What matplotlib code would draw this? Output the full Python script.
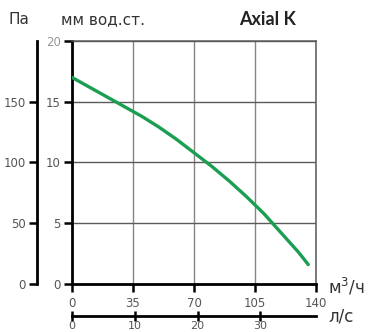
import matplotlib.pyplot as plt

# curve: flow [m3/h] vs pressure [mm water]
flow = [0, 10, 20, 30, 40, 50, 60, 70, 80, 90, 100, 110, 120, 130, 135.5]
pressure_mm = [17.0, 16.2, 15.4, 14.6, 13.8, 12.9, 11.9, 10.8, 9.7, 8.5, 7.2, 5.8, 4.2, 2.6, 1.6]

x_ticks = [0, 35, 70, 105, 140]
mm_ticks = [0, 5, 10, 15, 20]
pa_ticks = [0, 50, 100, 150]
ls_ticks = [0, 10, 20, 30]

grey = "#555555"

fig = plt.figure(figsize=(3.71, 3.32), dpi=100)
ax = fig.add_axes([0.194, 0.1446, 0.658, 0.732])

ax.plot(flow, pressure_mm, color="#1a9e52", lw=2.4, solid_capstyle="round", zorder=3)

ax.set_xlim(0, 140)
ax.set_ylim(0, 20)
ax.set_xticks(x_ticks)
ax.set_yticks(mm_ticks)
ax.xaxis.grid(True, color="#858585", lw=1.0)
ax.yaxis.grid(True, color="#5a5a5a", lw=1.0)
for s in ["top", "right"]:
    ax.spines[s].set_color("#5a5a5a")
    ax.spines[s].set_linewidth(1.1)
for s in ["left", "bottom"]:
    ax.spines[s].set_color("black")
    ax.spines[s].set_linewidth(2)
ax.tick_params(axis="both", direction="out", length=6, width=1.8, color="black",
               labelsize=8.5, labelcolor=grey)
ax.tick_params(axis="y", pad=2)
ax.get_yticklabels()[-1].set_color("#999999")

# Pa axis on the far left
ax_pa = ax.twinx()
ax_pa.set_ylim(0, 200)
ax_pa.spines["left"].set_position(("axes", -0.143))
ax_pa.spines["left"].set_visible(True)
ax_pa.spines["left"].set_linewidth(2)
for s in ["right", "top", "bottom"]:
    ax_pa.spines[s].set_visible(False)
ax_pa.yaxis.set_ticks_position("left")
ax_pa.yaxis.set_label_position("left")
ax_pa.set_yticks(pa_ticks)
ax_pa.tick_params(axis="y", direction="out", length=6, width=1.8,
                  labelsize=8.5, labelcolor=grey, pad=2)

# l/s axis below
ax_ls = ax.secondary_xaxis(-0.132, functions=(lambda v: v / 3.6, lambda v: v * 3.6))
ax_ls.set_xticks(ls_ticks)
ax_ls.spines["bottom"].set_linewidth(2)
ax_ls.tick_params(axis="x", direction="inout", length=7, width=1.8,
                  labelsize=8, labelcolor=grey, pad=0)

fig.text(0.022, 0.94, "Па", fontsize=11, color="#333333", va="center")
fig.text(0.165, 0.94, "мм вод.ст.", fontsize=11, color="#333333", va="center")
fig.text(0.645, 0.94, "Axial K", fontsize=13, fontweight="bold", color="#222222",
         va="center", family="Lato")
fig.text(0.885, 0.135, "м$^3$/ч", fontsize=12, color="#333333", va="center")
fig.text(0.885, 0.048, "л/с", fontsize=12, color="#333333", va="center")

fig.savefig("out.png", dpi=100)
